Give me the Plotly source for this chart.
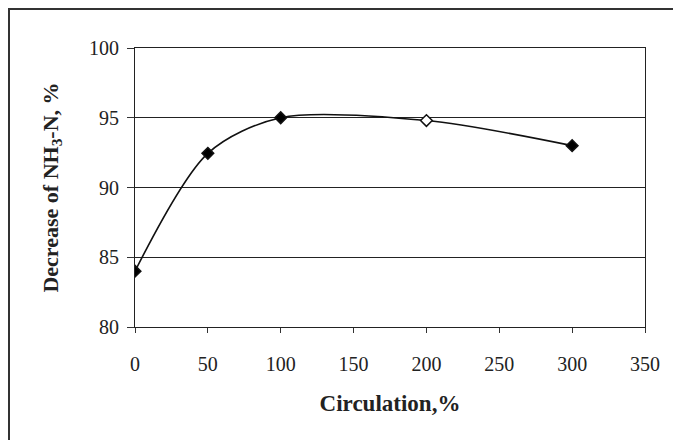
import plotly.graph_objects as go

circulation = [0, 50, 100, 200, 300]
decrease_nh3n = [84.0, 92.45, 95.0, 94.8, 93.0]
marker_fill = ["black", "black", "black", "white", "black"]
x_ticks = [0, 50, 100, 150, 200, 250, 300, 350]
y_ticks = [80, 85, 90, 95, 100]

FONT = "Liberation Serif"

fig = go.Figure()
fig.add_trace(go.Scatter(
    x=circulation, y=decrease_nh3n,
    mode="lines+markers",
    line=dict(color="#111", width=1.6, shape="spline", smoothing=0.85),
    marker=dict(symbol="diamond", size=9, color=marker_fill,
                line=dict(color="#111", width=1.5)),
    showlegend=False,
))

fig.update_layout(
    width=673, height=440,
    margin=dict(l=135, r=28, t=48, b=113),
    paper_bgcolor="white", plot_bgcolor="white",
    font=dict(family=FONT, color="#222", size=20),
    xaxis=dict(
        range=[0, 350], tickvals=x_ticks, ticks="outside", ticklen=5,
        tickcolor="#333", showline=True, linecolor="#222", linewidth=1.2,
        mirror=True, showgrid=False, zeroline=False, ticklabelstandoff=14,
        tickfont=dict(family=FONT, size=20, color="#222"),
        title=dict(text="<b>Circulation,%</b>", standoff=20,
                   font=dict(family=FONT, size=23, color="#222")),
    ),
    yaxis=dict(
        range=[80, 100], tickvals=y_ticks, ticks="outside", ticklen=7,
        tickcolor="#333", showline=True, linecolor="#222", linewidth=1.2,
        mirror=True, showgrid=True, gridcolor="#222", gridwidth=1,
        zeroline=False, ticklabelstandoff=4,
        tickfont=dict(family=FONT, size=20, color="#222"),
        title=dict(text="<b>Decrease of NH<sub>3</sub>-N, %</b>", standoff=24,
                   font=dict(family=FONT, size=22, color="#222")),
    ),
    shapes=[dict(type="rect", xref="paper", yref="paper",
                 x0=(9 - 135) / 510, x1=(690 - 135) / 510,
                 y0=(327 - 460) / 279, y1=(327 - 9) / 279,
                 line=dict(color="#333", width=2), layer="below")],
)

fig.write_html(
    "out.html",
    config={"displayModeBar": False},
    post_script="document.body.style.margin='0';document.body.style.overflow='hidden';",
)
